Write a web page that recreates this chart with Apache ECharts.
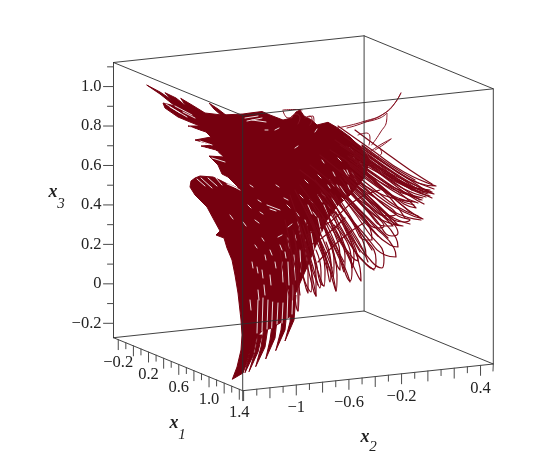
<!DOCTYPE html>
<html><head><meta charset="utf-8">
<style>html,body{margin:0;padding:0;background:#fff}#c{width:550px;height:459px}</style>
<script src="https://cdn.jsdelivr.net/npm/echarts@6/dist/echarts.min.js"></script>
</head><body><div id="c"></div>
<script>
// axis ranges and ticks (data units)
const x1Range=[-0.263,1.445], x2Range=[-1.407,0.497], x3Range=[-0.273,1.122];
const x1Major=[-0.2,0,0.2,0.4,0.6,0.8,1.0,1.2,1.4];
const x1Minor=[-0.1,0.1,0.3,0.5,0.7,0.9,1.1,1.3];
const x2Major=[-1.4,-1.2,-1,-0.8,-0.6,-0.4,-0.2,0,0.2,0.4];
const x2Minor=[-1.3,-1.1,-0.9,-0.7,-0.5,-0.3,-0.1,0.1,0.3];
const x3Major=[-0.2,0,0.2,0.4,0.6,0.8,1.0];
const x3Minor=[-0.1,0.1,0.3,0.5,0.7,0.9,1.1];
const x1Labels=[[-0.2,'−0.2'],[0.2,'0.2'],[0.6,'0.6'],[1.0,'1.0'],[1.4,'1.4']];
const x2Labels=[[-1,'−1'],[-0.6,'−0.6'],[-0.2,'−0.2'],[0.4,'0.4']];
const x3Labels=[[-0.2,'−0.2'],[0,'0'],[0.2,'0.2'],[0.4,'0.4'],[0.6,'0.6'],[0.8,'0.8'],[1.0,'1.0']];

// attractor traced in picture coordinates: solid body
const bodyOutline=[146.7,85,160,92,172,100,165,92.7,176,98,186,106,180.7,98.3,192,105,205,113,222,115,243,114,250,113,262,111.5,270,115,283,120,291.7,118,296,112,300,110,304,116,311.7,120,317,125,328,122.3,337,127.5,350,137,360,147,370,160,364,178,350,195,338,205,327,220,316,245,308,265,300,283,294,297,291,316,280,323,272,328,262,331,256,338,250,350,246,365,243,373,232.3,379.3,237,367,241,350,242,335,241,320,238,293,235,275,232,260,227,248,224,238,216,235,220,231,214,220,207,207,195,195,190,187,191,181,195,178,200,176,213,177,224,182,240,189,228,177,222,174,218,165,209,156,224,157,216,150,201,146,214,145,195,140,211,137,206,132,188,126,200,126,190,122,178,117,165,108,163,103,175,106,160,94];
const spikeBodies=[
 [245,372.7,249,355,253,335,257,335,253,356],
 [249,371.7,255,352,258,335,262,335,258,352],
 [255.7,366.7,261,347,265,320,269,320,265,347],
 [265.7,359,270,340,274,310,278,310,275,338],
 [275.7,350.7,281,330,284,300,288,300,285,330],
 [285,341,290,322,292,295,296,295,294,320],
 [209.3,103.3,218,109,227,116,222,116,214,109]
];
// white gaps left between the strands of the body
const gapFlecks=[
 [222,180,240,190],[227,184,237,188],[197,179,205,186],[201,178,212,188],[208,178,217,186],[216,178,222,185],
 [170,107,187,117],[175,106,192,115],[183,112,195,118],[166,104,180,113],[200,141,212,145],[204,148,218,152],[212,158,225,162],[190,127,204,133],
 [245,118,258,116],[247,121,262,118],[252,120,266,122],[265,130,268,130],[275,130,279,128],[295,148,298,146],[315,132,317,129],
 [267,205,280,210],[270,209,276,211],[288,227,292,224],[278,237,282,235],[255,220,259,223],[260,212,263,214],[243,222,246,226],[230,215,233,219],
 [257,267,258,273],[262,270,263,278],[252,262,253,268],[347,170,349,175],[333,172,335,176],[337,185,339,189],[348,185,350,190],[328,185,330,188],[322,160,324,163],[250,185,253,187],
 [300,195,303,198],[310,200,313,203],[322,193,325,197],[296,212,299,216],[284,198,288,200],[276,185,279,187],[262,238,264,241],[270,250,272,255],[280,245,282,250],[287,205,290,208],[305,180,308,183],[318,175,321,178],[338,158,341,161],[255,245,257,248],[265,255,266,260],[275,262,276,268],[285,252,286,258],[258,290,259,300],[264,285,265,295],[250,300,251,310],[270,275,271,285],[258,200,261,202],[248,205,251,208],[295,235,296,240],[305,220,307,225],[313,212,316,216],[328,205,330,208],[342,198,345,201],
 [258,300,257,333],[263,298,262,331],[268,300,267,329],[272.7,302,271.7,328],[278,303,277,324],[283,303,282,323],[288,290,287,320],[293,285,292,314],
 [282,262,283,282],[288,262,289,285],[294,255,295,280],[300,250,301,272],[305,240,307,262],[311,232,314,250],[318,218,322,236],[324,205,329,218],[332,198,338,208],[340,186,346,195],[352,172,357,182],[360,162,365,170],
 [298,222,300,234],[288,238,289,248],[308,205,312,214],[318,195,322,202],[330,180,334,186],[344,170,348,176],[354,158,358,164],[350,148,354,152]
];
// long fan loops
const fanStrands=[
 [338,126,372,150,404,172,436,186,418,183,388,166,352,140],
 [344,136,376,160,406,180,434,194,414,188,384,170,350,148],
 [346,146,376,168,402,184,430,190,410,186,382,172,350,154],
 [348,156,378,178,404,192,423,198,402,193,380,182,352,164],
 [350,166,376,186,398,198,415,202,396,199,374,191,348,175],
 [355,160,385,190,408,210,423,219,404,212,378,196,350,172],
 [352,175,376,198,398,216,410,220,404,222,378,208,348,182],
 [348,178,372,205,392,222,403,226,392,224,370,212,344,186],
 [345,185,368,212,385,226,393,226,387,220,366,202,344,178],
 [340,190,362,216,378,228,384,226,378,218,358,200,340,178],
 [352,192,376,220,392,236,398,233,394,224,378,206,358,186],
 [345,200,370,228,390,245,398,247,396,238,378,216,352,190],
 [340,205,365,235,385,255,396,257,394,248,374,226,348,198],
 [335,205,355,238,372,262,382,268,384,258,368,232,345,200],
 [330,205,348,240,366,264,374,269,376,260,360,232,340,200],
 [328,215,345,248,358,276,361,281,360,268,350,240,336,212],
 [322,215,338,250,346,275,350,281,352,270,344,244,332,212],
 [325,210,340,240,353,258,358,261,356,250,345,225,335,205],
 [312,220,325,255,334,285,336,291,337,275,332,248,322,218],
 [308,215,322,248,331,272,333,277,334,262,327,236,318,212],
 [315,210,330,240,337,265,340,270,340,255,334,232,324,208],
 [303,225,315,262,322,283,324,286,325,270,320,245,312,222],
 [298,225,306,260,314,292,316,296,316,275,312,250,306,222],
 [293,230,299,260,306,288,308,293,308,272,305,248,300,228],
 [286,235,292,270,296,305,298,311,299,285,297,255,294,232],
 [280,250,284,275,290,298,292,300,292,280,289,258,285,245],
 [318,195,345,225,360,250,366,256,364,244,350,218,330,192],
 [360,150,392,172,416,188,428,192,410,180,386,164,362,146],
 [352,146,384,170,412,188,432,198,414,190,384,176,350,156],
 [340,185,368,206,388,216,396,214,388,206,366,192,342,176],
 [362,170,386,190,404,204,416,208,406,198,384,182,360,164],
 [335,195,352,222,366,240,372,240,370,228,356,208,340,190],
 [300,262,305,282,311,292,312,280,310,262],[306,250,313,272,320,288,321,272,316,250],[316,240,326,265,330,282,331,266,326,242],
 [326,232,340,260,344,272,345,256,336,232],[334,225,350,250,352,268,354,256,345,228]
];
const crossArcs=[
 [300,170,330,195,355,225,372,250],[310,165,340,190,365,215,388,238],[320,155,350,180,378,205,398,225],
 [300,185,322,215,342,245,352,265],[295,190,312,225,326,260],[290,195,303,235,312,268],[330,150,360,170,390,195,410,212],
 [340,145,370,165,398,185,420,200],[285,220,291,250,295,285],[300,200,318,235,332,268],[345,160,372,180,392,200,405,218],
 [315,180,338,210,358,240,368,262],[335,140,365,160,395,178,425,192],[350,150,380,168,408,182],
 [305,205,320,240,328,270],[310,200,328,232,344,262],[320,190,342,222,360,252],[330,180,354,208,378,236],[340,170,365,195,388,220],
 [288,240,296,270,300,295],[296,215,308,250,318,285],[306,235,330,222,356,200,380,190],[318,262,340,240,365,222],[300,250,322,238,345,218],
 [355,130,382,150,410,170,432,184],[362,145,390,165,415,180],[368,155,392,175,412,190],
 [360,147,387,165,410,179,434,189],[358,150,385,168,408,182,432,192],[356,152,383,171,406,186,428,194],[354,155,381,174,404,189,426,197],
 [352,158,379,177,402,192,422,200],[350,160,377,180,400,195,418,203],[348,163,375,184,397,199,414,205],[350,170,375,190,396,206,418,216],
 [348,175,372,195,394,212,421,220],[345,180,370,200,390,216,410,224],
 [328,210,345,236,360,258,374,270],[320,220,335,248,345,268,350,282],[316,225,328,252,333,275,336,291],
 [308,235,316,262,320,282,324,286],[304,240,310,265,314,285,316,296],[295,250,297,280,298,300,298,311],
 [366,158,390,176,412,190,430,196],[370,166,392,183,410,196,424,204]
];
// loops rising out of the top of the body
const topWisps=[
 [336.7,128,363,121.7,386.7,111.7,401,92.7,395,103,385,113,363,123,347,128],
 [365,122,380,118,387,113,386.7,120,380,133,371.7,145],
 [358,135,366.7,133,370,138,369,145],
 [391,139,380,145,370,151.7],[391,139,383,145,375,150],[380,148,381.7,153,376,157],
 [283,111,288,118,292,117],[283,110,295,109.5,302,110],[305,118,310,116,312,120,310,125],[308,117,313,116,314,122],[290,118,296,114,300,118,298,124]
];

const fmt=a=>{const r=[];for(let i=0;i+1<a.length;i+=2)r.push([a[i],a[i+1]]);return r;};
// orthographic projection of the Maple box onto the page
const O=[242.7,390.7],U1=[-129.2,-53],U2=[250.6,-26.7],U3=[0,-275.2];
function project(a,b,c){
 const t1=(x1Range[1]-a)/(x1Range[1]-x1Range[0]),t2=(b-x2Range[0])/(x2Range[1]-x2Range[0]),t3=(c-x3Range[0])/(x3Range[1]-x3Range[0]);
 return [O[0]+t1*U1[0]+t2*U2[0]+t3*U3[0],O[1]+t1*U1[1]+t2*U2[1]+t3*U3[1]];
}
const [a0,a1]=x1Range,[b0,b1]=x2Range,[c0,c1]=x3Range;
const boxEdges=[
 [[a0,b0,c1],[a1,b0,c1],[a1,b1,c1],[a0,b1,c1],[a0,b0,c1]],
 [[a0,b0,c0],[a1,b0,c0],[a1,b1,c0],[a0,b1,c0],[a0,b0,c0]],
 [[a0,b0,c0],[a0,b0,c1]],[[a1,b0,c0],[a1,b0,c1]],[[a1,b1,c0],[a1,b1,c1]],[[a0,b1,c0],[a0,b1,c1]]
].map(e=>e.map(p=>project(...p)));

const series=[];
const line=(pts,color,width,z,smooth,op)=>series.push({type:'line',data:pts,symbol:'none',smooth:smooth?0.5:false,clip:false,silent:true,z,animation:false,lineStyle:{color,width,opacity:op==null?1:op,cap:'round',join:'round'}});
const RED='#76000f';
series.push({type:'custom',silent:true,z:1,animation:false,clip:false,data:[bodyOutline,...spikeBodies].map((_,i)=>[i]),
 encode:{x:0},renderItem(p,api){const arr=[bodyOutline,...spikeBodies][p.dataIndex];return{type:'polygon',shape:{points:fmt(arr).map(q=>api.coord(q))},style:{fill:RED,stroke:RED,lineWidth:1}};}});
gapFlecks.forEach(a=>line(fmt(a),'#ffffff',1,2,false,0.85));
fanStrands.forEach(a=>line(fmt(a),'#7c0616',1.2,3,true));
crossArcs.forEach(a=>line(fmt(a),'#7c0616',1.2,3,true));
topWisps.forEach(a=>line(fmt(a),'#8a1526',1,3,true));
boxEdges.forEach(e=>line(e,'#2e2e2e',1,5,false,0.9));
const TICK='#4a4a4a';
x1Major.forEach(v=>{const p=project(v,b0,c0);line([p,[p[0],p[1]+10]],TICK,1,5);});
x1Minor.forEach(v=>{const p=project(v,b0,c0);line([p,[p[0],p[1]+6]],TICK,1,5);});
x2Major.forEach(v=>{const p=project(a1,v,c0);line([p,[p[0],p[1]+10]],TICK,1,5);});
x2Minor.forEach(v=>{const p=project(a1,v,c0);line([p,[p[0],p[1]+6]],TICK,1,5);});
line([project(a1,b0,c0),[242.7,400.7]],TICK,1,5);
line([project(a1,b1,c0),[493,371]],TICK,1,5);
x3Major.forEach(v=>{const p=project(a0,b0,v);line([p,[p[0]-10,p[1]]],TICK,1,5);});
x3Minor.forEach(v=>{const p=project(a0,b0,v);line([p,[p[0]-6,p[1]]],TICK,1,5);});

const T=[];
const NUM='16.5px "Liberation Serif"';
x1Labels.forEach(([v,s])=>{const p=project(v,b0,c0);T.push([p[0],p[1]+23,s,NUM,'center']);});
x2Labels.forEach(([v,s])=>{const p=project(a1,v,c0);T.push([p[0],p[1]+23,s,NUM,'center']);});
x3Labels.forEach(([v,s])=>{const p=project(a0,b0,v);T.push([p[0]-12,p[1],s,NUM,'right']);});
const NAME='italic bold 18px "Liberation Serif"',SUB='italic 15px "Liberation Serif"';
T.push([174,423,'x',NAME,'center'],[182,435,'1',SUB,'center'],[365,437,'x',NAME,'center'],[373,447,'2',SUB,'center'],[53,192,'x',NAME,'center'],[61,204,'3',SUB,'center']);
series.push({type:'custom',silent:true,z:6,animation:false,clip:false,data:T.map((_,i)=>[i]),encode:{x:0},
 renderItem(p,api){const t=T[p.dataIndex],c=api.coord([t[0],t[1]]);return{type:'text',x:c[0],y:c[1],style:{text:t[2],font:t[3],fill:'#222',align:t[4],verticalAlign:'middle'}};}});

const chart=echarts.init(document.getElementById('c'),null,{renderer:'canvas'});
chart.setOption({animation:false,backgroundColor:'#fff',grid:{left:0,right:0,top:0,bottom:0},
 xAxis:{type:'value',min:0,max:550,show:false},yAxis:{type:'value',min:0,max:459,inverse:true,show:false},series});
</script></body></html>
